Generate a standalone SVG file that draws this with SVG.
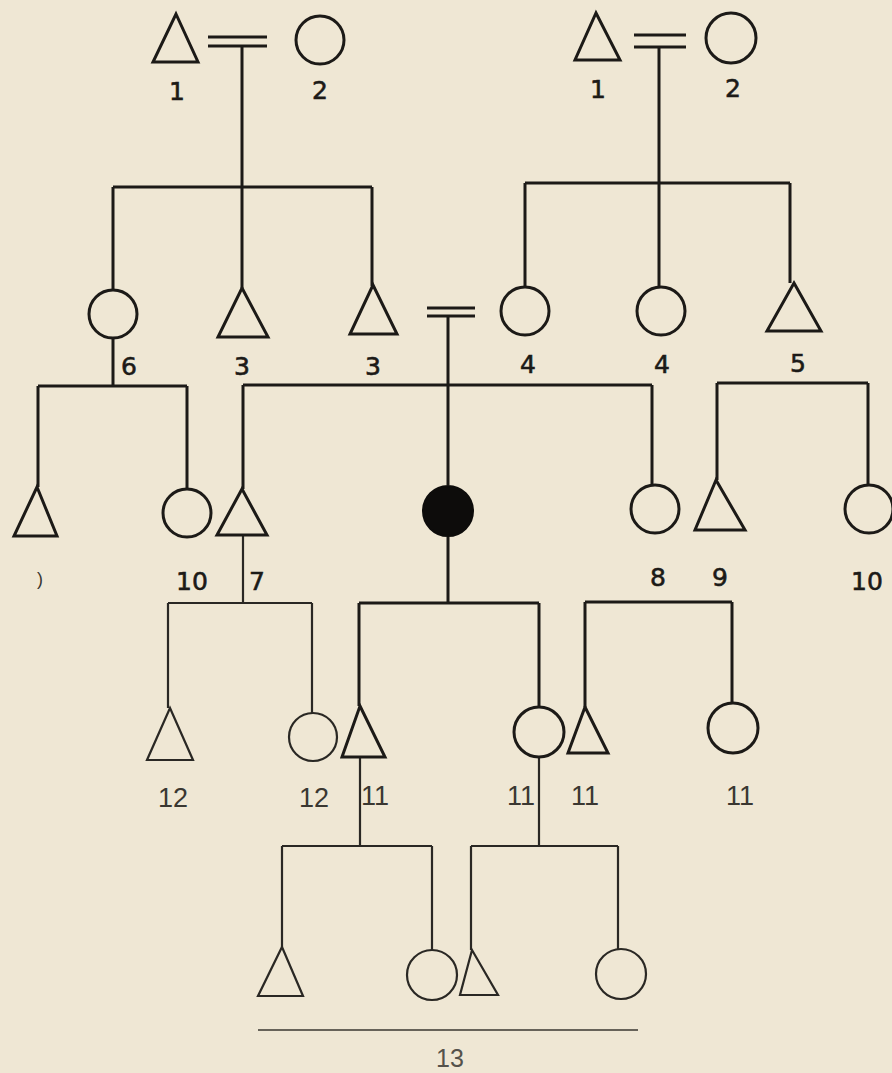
<svg xmlns="http://www.w3.org/2000/svg" width="892" height="1073" viewBox="0 0 892 1073">
<style>
.bg{fill:#efe7d4}
.s{fill:none;stroke:#1c1a17;stroke-width:3;stroke-linejoin:miter}
.t{fill:none;stroke:#2a2824;stroke-width:2.2}
.f{fill:#0d0c0b;stroke:#0d0c0b;stroke-width:2}
.lb{font-family:"DejaVu Sans","Liberation Sans",sans-serif;font-size:25px;fill:#1c1a17;text-anchor:middle;stroke:#1c1a17;stroke-width:0.6}
.ll{font-family:"Liberation Sans","DejaVu Sans",sans-serif;font-size:27px;fill:#3a3731;text-anchor:middle}
</style>
<rect class="bg" x="0" y="0" width="892" height="1073"/>
<g id="connectors">
  <path class="s" d="M208,37H267M208,46H267M242,46V187M113,187H372M113,187V290M242,187V288M372,187V286"/>
  <path class="s" d="M634,35H686M634,47H686M659,47V183M525,183H790M525,183V287M659,183V287M790,183V283"/>
  <path class="s" d="M113,338V386M38,386H187M38,386V487M187,386V489"/>
  <path class="s" d="M427,308H475M427,316H475M448,316V485M243,385H652M243,385V489M652,385V485"/>
  <path class="s" d="M717,383H868M717,383V480M868,383V485"/>
  <path class="t" d="M243,535V603M168,603H312M168,603V708M312,603V713"/>
  <path class="s" d="M448,537V603M359,603H539M359,603V706M539,603V707"/>
  <path class="s" d="M585,602H732M585,602V707M732,602V703"/>
  <path class="t" d="M360,757V846M282,846H432M282,846V947M432,846V951"/>
  <path class="t" d="M539,757V846M471,846H618M471,846V950M618,846V949"/>
  <path d="M258,1030H638" fill="none" stroke="#3a3731" stroke-width="1.6"/>
</g>
<g id="n-L1"><path class="s" d="M176,14L198,62H153Z"/><text class="lb" x="177" y="100">1</text></g>
<g id="n-L2"><circle class="s" cx="320" cy="40" r="24"/><text class="lb" x="320" y="99">2</text></g>
<g id="n-R1"><path class="s" d="M596,13L620,60H575Z"/><text class="lb" x="598" y="98">1</text></g>
<g id="n-R2"><circle class="s" cx="731" cy="38" r="25"/><text class="lb" x="733" y="97">2</text></g>
<g id="n-6"><circle class="s" cx="113" cy="314" r="24"/><text class="lb" x="129" y="375">6</text></g>
<g id="n-3a"><path class="s" d="M242,288L268,337H218Z"/><text class="lb" x="242" y="375">3</text></g>
<g id="n-3b"><path class="s" d="M373,285L397,334H350Z"/><text class="lb" x="373" y="375">3</text></g>
<g id="n-4a"><circle class="s" cx="525" cy="311" r="24"/><text class="lb" x="528" y="373">4</text></g>
<g id="n-4b"><circle class="s" cx="661" cy="311" r="24"/><text class="lb" x="662" y="373">4</text></g>
<g id="n-5"><path class="s" d="M794,283L821,331H767Z"/><text class="lb" x="798" y="372">5</text></g>
<g id="n-x"><path class="s" d="M37,487L57,536H14Z"/><text class="ll" x="40" y="585" style="font-size:18px">)</text></g>
<g id="n-10a"><circle class="s" cx="187" cy="513" r="24"/><text class="lb" x="192" y="590">10</text></g>
<g id="n-7"><path class="s" d="M242,489L267,535H217Z"/><text class="lb" x="257" y="590">7</text></g>
<g id="n-P"><circle class="f" cx="448" cy="511" r="25"/></g>
<g id="n-8"><circle class="s" cx="655" cy="509" r="24"/><text class="lb" x="658" y="586">8</text></g>
<g id="n-9"><path class="s" d="M716,480L745,530H695Z"/><text class="lb" x="720" y="586">9</text></g>
<g id="n-10b"><circle class="s" cx="869" cy="509" r="24"/><text class="lb" x="867" y="590">10</text></g>
<g id="n-12a"><path class="t" d="M170,708L193,760H147Z"/><text class="ll" x="173" y="807">12</text></g>
<g id="n-12b"><circle class="t" cx="313" cy="737" r="24"/><text class="ll" x="314" y="807">12</text></g>
<g id="n-11a"><path class="s" d="M360,706L385,757H342Z"/><text class="ll" x="375" y="805">11</text></g>
<g id="n-11b"><circle class="s" cx="539" cy="732" r="25"/><text class="ll" x="521" y="805">11</text></g>
<g id="n-11c"><path class="s" d="M585,707L608,753H568Z"/><text class="ll" x="585" y="805">11</text></g>
<g id="n-11d"><circle class="s" cx="733" cy="728" r="25"/><text class="ll" x="740" y="805">11</text></g>
<g id="n-13a"><path class="t" d="M282,947L303,996H258Z"/></g>
<g id="n-13b"><circle class="t" cx="432" cy="975" r="25"/></g>
<g id="n-13c"><path class="t" d="M472,950L498,995H460Z"/></g>
<g id="n-13d"><circle class="t" cx="621" cy="974" r="25"/></g>
<text class="ll" x="450" y="1067" style="font-size:25px;fill:#55524b">13</text>
</svg>
